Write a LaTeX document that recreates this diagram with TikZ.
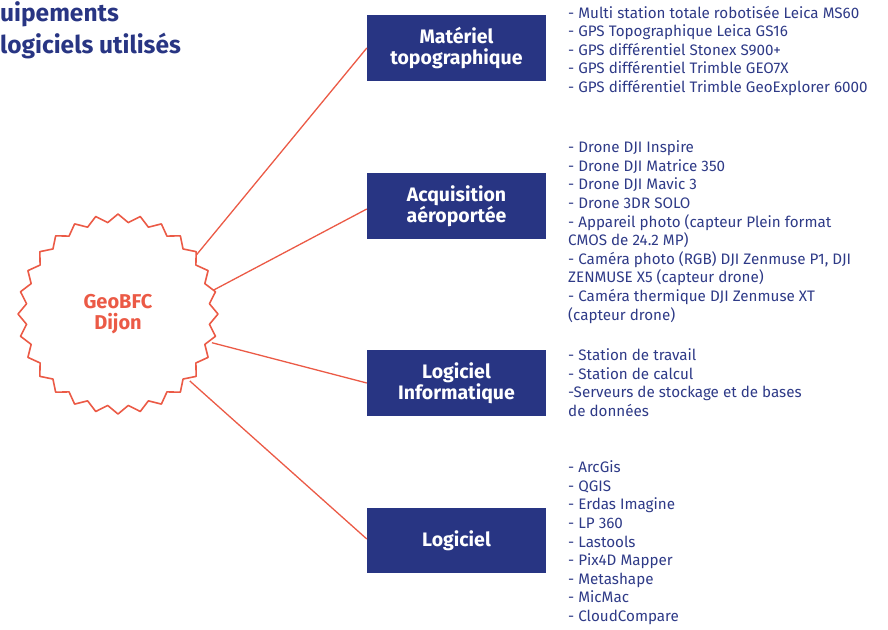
\documentclass[tikz,border=0pt]{standalone}
\usepackage{fontspec}
\setmainfont{Fira Sans}
\definecolor{navy}{HTML}{283583}
\definecolor{listc}{HTML}{2E3A87}
\definecolor{redc}{HTML}{EB5A46}
\tikzset{
  catbox/.style={fill=navy, text=white, font=\fontsize{19.5}{21}\selectfont\bfseries, align=center, minimum width=179pt, minimum height=66pt, inner sep=0pt},
  listline/.style={anchor=base west, inner sep=0pt, text=listc, font=\fontsize{15.2}{18}\selectfont},
  link/.style={draw=redc, line width=1.3pt},
  titletext/.style={anchor=base west, inner sep=0pt, text=navy, font=\fontsize{24.5}{30}\selectfont\bfseries}
}
\begin{document}
\begin{tikzpicture}[x=1pt,y=-1pt]
\useasboundingbox (0,0) rectangle (888,629);
% title
\node[titletext] (t1) at (0,21) {uipements};
\node[titletext] (t2) at (0,53) {logiciels utilisés};
% central badge
\node[circle, minimum size=196pt, inner sep=0pt, text=redc, font=\fontsize{20}{21.5}\selectfont\bfseries, align=center] (c) at (118,314) {GeoBFC\\Dijon};
\draw[redc, line width=1.6pt, line join=round, shift={(c.center)}] (90:100) \foreach \k in {1,...,55} { -- ({90+\k*180/28}:{100-8*mod(\k,2)}) } -- cycle;
% boxes
\node[catbox] (b1) at (456.5,48) {Matériel\\topographique};
\node[catbox] (b2) at (456.5,206) {Acquisition\\aéroportée};
\node[catbox] (b3) at (456.5,383) {Logiciel\\Informatique};
\node[catbox, minimum height=65pt] (b4) at (456.5,540.5) {Logiciel};
% connectors
\draw[link] (c.37) -- (b1.west);
\draw[link] (c.14) -- ([yshift=-3pt]b2.west);
\draw[link] (c.-17) -- (b3.west);
\draw[link] (c.-43) -- ([yshift=1.5pt]b4.west);
% lists
\foreach \t [count=\i from 0] in {- Multi station totale robotisée Leica MS60, - GPS Topographique Leica GS16, - GPS différentiel Stonex S900+, - GPS différentiel Trimble GEO7X, - GPS différentiel Trimble GeoExplorer 6000}
  \node[listline] (la\i) at (568,18+18.6*\i) {\t};
\foreach \t [count=\i from 0] in {- Drone DJI Inspire, - Drone DJI Matrice 350, - Drone DJI Mavic 3, - Drone 3DR SOLO, - Appareil photo (capteur Plein format, CMOS de 24.2 MP), {- Caméra photo (RGB) DJI Zenmuse P1, DJI}, ZENMUSE X5 (capteur drone), - Caméra thermique DJI Zenmuse XT, (capteur drone)}
  \node[listline] (lb\i) at (568,152.7+18.6*\i) {\t};
\foreach \t [count=\i from 0] in {- Station de travail, - Station de calcul, -Serveurs de stockage et de bases, de données}
  \node[listline] (lc\i) at (568,360.7+18.6*\i) {\t};
\foreach \t [count=\i from 0] in {- ArcGis, - QGIS, - Erdas Imagine, - LP 360, - Lastools, - Pix4D Mapper, - Metashape, - MicMac, - CloudCompare}
  \node[listline] (ld\i) at (568,472.7+18.6*\i) {\t};
\end{tikzpicture}
\end{document}
